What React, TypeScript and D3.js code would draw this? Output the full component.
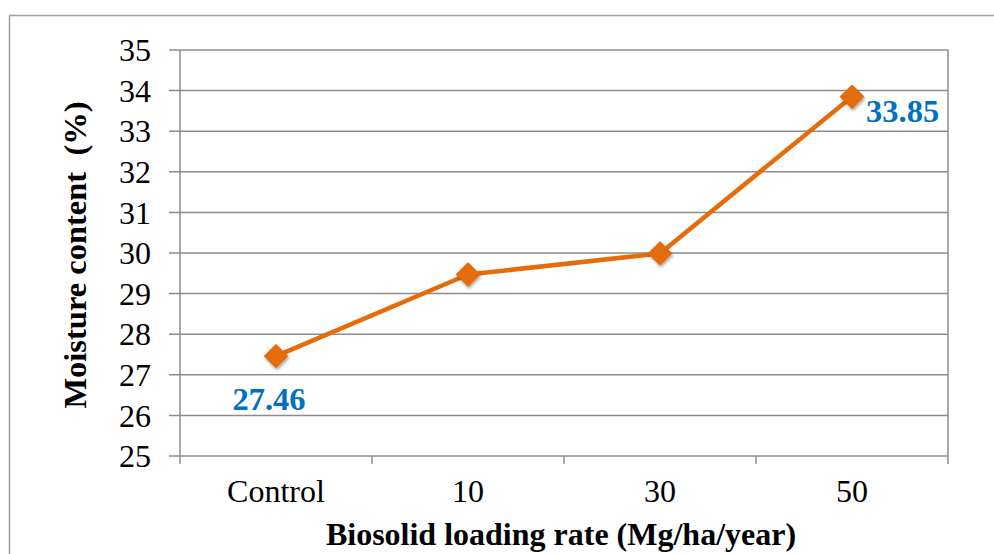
import React from "react";
import * as d3 from "d3";

const categories = ["Control", "10", "30", "50"];
const moisture = [27.46, 29.47, 29.99, 33.85];
const yTicks = [25, 26, 27, 28, 29, 30, 31, 32, 33, 34, 35];
const labeledPoints = [0, 3];

export default function App() {
  const W = 994, H = 554;
  const left = 180, right = 948, top = 50, bottom = 456;
  const x = d3.scaleBand<string>().domain(categories).range([left, right]);
  const y = d3.scaleLinear().domain([25, 35]).range([bottom, top]);
  const line = d3.line<number>()
    .x((_, i) => (x(categories[i]) as number) + x.bandwidth() / 2)
    .y((d) => y(d));
  const grid = "#8c8c8c";
  const font = "'Liberation Serif', 'Times New Roman', serif";
  return (
    <svg width={W} height={H} style={{ position: "absolute", left: 0, top: 0, background: "#fff" }}>
      <defs>
        <filter id="sh" x="-50%" y="-50%" width="200%" height="200%">
          <feDropShadow dx="1" dy="2" stdDeviation="1.5" floodColor="#000" floodOpacity="0.35" />
        </filter>
      </defs>
      <rect x={9.5} y={15.5} width={990} height={560} fill="#fff" stroke="#a0a0a0" strokeWidth={1.5} />
      {yTicks.map((t) => (
        <g key={t}>
          <line x1={169} x2={right} y1={y(t)} y2={y(t)} stroke={grid} strokeWidth={1.5} />
          <text x={151} y={y(t)} dy="0.35em" textAnchor="end" fontFamily={font} fontSize={32} fill="#000">{t}</text>
        </g>
      ))}
      <line x1={left} x2={left} y1={top} y2={bottom + 8} stroke={grid} strokeWidth={1.5} />
      <line x1={right} x2={right} y1={top} y2={bottom + 8} stroke={grid} strokeWidth={1.5} />
      {categories.map((c, i) => (
        <g key={c}>
          {i > 0 && <line x1={x(c)} x2={x(c)} y1={bottom} y2={bottom + 8} stroke={grid} strokeWidth={1.5} />}
          <text x={(x(c) as number) + x.bandwidth() / 2} y={502} textAnchor="middle" fontFamily={font} fontSize={32} fill="#000">{c}</text>
        </g>
      ))}
      <path d={line(moisture) || ""} fill="none" stroke="#E46C0A" strokeWidth={4.5} strokeLinejoin="round" />
      {moisture.map((v, i) => {
        const cx = (x(categories[i]) as number) + x.bandwidth() / 2;
        const cy = y(v);
        const s = 11;
        return (
          <path key={i} filter="url(#sh)" d={`M${cx},${cy - s}L${cx + s},${cy}L${cx},${cy + s}L${cx - s},${cy}Z`} fill="#E46C0A" stroke="#E46C0A" strokeWidth={2} strokeLinejoin="round" />
        );
      })}
      {labeledPoints.map((i) => {
        const cx = (x(categories[i]) as number) + x.bandwidth() / 2;
        const cy = y(moisture[i]);
        const isFirst = i === 0;
        return (
          <text key={i} x={isFirst ? cx - 7 : cx + 14} y={isFirst ? cy + 54 : cy + 25} textAnchor={isFirst ? "middle" : "start"} fontFamily={font} fontSize={32.5} fontWeight="bold" fill="#0070C0">
            {moisture[i].toFixed(2)}
          </text>
        );
      })}
      <text x={561} y={545} textAnchor="middle" fontFamily={font} fontSize={32} fontWeight="bold" fill="#000">Biosolid loading rate (Mg/ha/year)</text>
      <text transform={`translate(86,${(top + bottom) / 2 + 2}) rotate(-90)`} textAnchor="middle" fontFamily={font} fontSize={32.5} fontWeight="bold" fill="#000" style={{ whiteSpace: "pre" }}>Moisture content  (%)</text>
    </svg>
  );
}
